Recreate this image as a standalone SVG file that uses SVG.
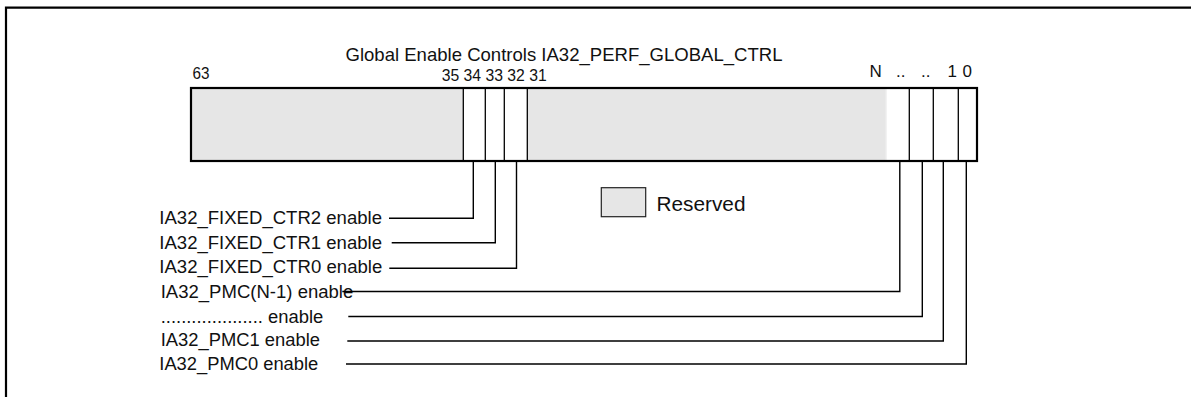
<svg xmlns="http://www.w3.org/2000/svg" width="1191" height="397" viewBox="0 0 1191 397">
<style>
text{font-family:"Liberation Sans",Arial,sans-serif;fill:#111}
.lbl{font-size:17.5px}
.bit{font-size:17px}
.wire{fill:none;stroke:#000;stroke-width:1.4}
.div{stroke:#000;stroke-width:1.3}
</style>
<rect width="1191" height="397" fill="#fff"/>
<g id="frame">
<path d="M6,397 V7.7 H1191" fill="none" stroke="#000" stroke-width="2.2"/>
</g>
<g id="title">
<text x="345.5" y="60.5" font-size="18.5" textLength="437" lengthAdjust="spacingAndGlyphs">Global Enable Controls IA32_PERF_GLOBAL_CTRL</text>
</g>
<g id="bitnums">
<text class="bit" x="192.5" y="79.3" textLength="17" lengthAdjust="spacingAndGlyphs">63</text>
<text class="bit" x="441.7" y="81" textLength="105" lengthAdjust="spacingAndGlyphs">35 34 33 32 31</text>
<text class="bit" x="869.5" y="76.5">N</text>
<text class="bit" x="896" y="76.5">..</text>
<text class="bit" x="921" y="76.5">..</text>
<text class="bit" x="947.5" y="76.5">1</text>
<text class="bit" x="962.5" y="76.5">0</text>
</g>
<g id="register">
<rect x="191" y="88" width="786" height="73" fill="#fff"/>
<rect x="191" y="88" width="272.3" height="73" fill="#e6e6e6"/>
<rect x="527.3" y="88" width="358.7" height="73" fill="#e6e6e6"/>
<line class="div" x1="463.3" y1="88" x2="463.3" y2="161"/>
<line class="div" x1="485.3" y1="88" x2="485.3" y2="161"/>
<line class="div" x1="504.3" y1="88" x2="504.3" y2="161"/>
<line class="div" x1="527.3" y1="88" x2="527.3" y2="161"/>
<line x1="886.3" y1="88" x2="886.3" y2="161" stroke="#f2f2f2" stroke-width="1.3"/>
<line class="div" x1="909.3" y1="88" x2="909.3" y2="161"/>
<line class="div" x1="933.3" y1="88" x2="933.3" y2="161"/>
<line class="div" x1="958.3" y1="88" x2="958.3" y2="161"/>
<rect x="191" y="88" width="786" height="73" fill="none" stroke="#000" stroke-width="2.2"/>
</g>
<g id="legend">
<rect x="601.3" y="187.7" width="44.4" height="29" fill="#e6e6e6" stroke="#222" stroke-width="1.2"/>
<text x="656.5" y="210.7" font-size="20.5" textLength="89" lengthAdjust="spacingAndGlyphs">Reserved</text>
</g>
<g id="labels">
<text class="lbl" x="159.3" y="223.8" textLength="222.7" lengthAdjust="spacingAndGlyphs">IA32_FIXED_CTR2 enable</text>
<text class="lbl" x="159.3" y="248.5" textLength="222.7" lengthAdjust="spacingAndGlyphs">IA32_FIXED_CTR1 enable</text>
<text class="lbl" x="159.3" y="273" textLength="223" lengthAdjust="spacingAndGlyphs">IA32_FIXED_CTR0 enable</text>
<text class="lbl" x="160.7" y="297.5" textLength="192.6" lengthAdjust="spacingAndGlyphs">IA32_PMC(N-1) enable</text>
<text class="lbl" x="160.7" y="322.8" textLength="162.6" lengthAdjust="spacingAndGlyphs">.................... enable</text>
<text class="lbl" x="160.7" y="346.3" textLength="159.3" lengthAdjust="spacingAndGlyphs">IA32_PMC1 enable</text>
<text class="lbl" x="159.3" y="369.5" textLength="159" lengthAdjust="spacingAndGlyphs">IA32_PMC0 enable</text>
</g>
<g id="connectors">
<polyline class="wire" points="389,218.3 473.3,218.3 473.3,162"/>
<polyline class="wire" points="391.7,242.7 495.3,242.7 495.3,162"/>
<polyline class="wire" points="389.3,268.3 516.5,268.3 516.5,162"/>
<polyline class="wire" points="342.3,291.5 899.8,291.5 899.8,162"/>
<polyline class="wire" points="348.3,316.5 922.3,316.5 922.3,162"/>
<polyline class="wire" points="347.3,341 943.3,341 943.3,162"/>
<polyline class="wire" points="346,364 966.3,364 966.3,162"/>
</g>
</svg>
